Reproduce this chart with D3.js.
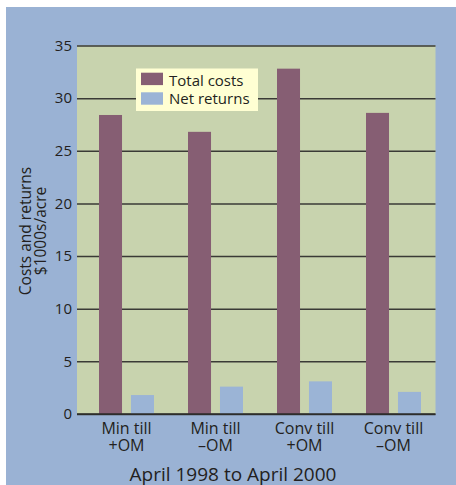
<!DOCTYPE html>
<html>
<head>
<meta charset="utf-8">
<script src="https://cdn.jsdelivr.net/npm/d3@7/dist/d3.min.js"></script>
<style>
  html, body { margin: 0; padding: 0; background: #ffffff; }
  svg { display: block; }
  text { font-family: "Open Sans", "Noto Sans", sans-serif; fill: #231f20; }
</style>
</head>
<body>
<div id="chart"></div>
<script>
// ---- data ----
const categories = ["Min till|+OM", "Min till|\u2013OM", "Conv till|+OM", "Conv till|\u2013OM"];
const seriesNames = ["Total costs", "Net returns"];
const totalCosts = [28.4, 26.8, 32.8, 28.6];
const netReturns = [1.8, 2.6, 3.1, 2.1];
const yTicks = [0, 5, 10, 15, 20, 25, 30, 35];
const yTitleLines = ["Costs and returns", "$1000s/acre"];
const xTitle = "April 1998 to April 2000";

const seriesValues = { "Total costs": totalCosts, "Net returns": netReturns };
const colors = { "Total costs": "#865e73", "Net returns": "#9bb4d6" };

// ---- layout ----
const W = 456, H = 485;
const plot = { left: 77, right: 435.5, top: 45.5, bottom: 414 };

const svg = d3.select("#chart").append("svg").attr("width", W).attr("height", H);

// outer blue panel
svg.append("rect").attr("x", 6).attr("y", 7).attr("width", W - 6).attr("height", H - 7).attr("fill", "#9ab2d4");

// plot background
svg.append("rect")
  .attr("x", plot.left).attr("y", plot.top)
  .attr("width", plot.right - plot.left).attr("height", plot.bottom - plot.top)
  .attr("fill", "#c8d3ae");

const y = d3.scaleLinear().domain([0, 35]).range([plot.bottom, plot.top]);
const x0 = d3.scaleBand().domain(categories).range([82, 438]).padding(0);
const x1 = d3.scaleBand().domain(seriesNames).range([17, 72]).paddingInner(0.28).paddingOuter(0);

// y axis with gridlines
const yAxis = svg.append("g")
  .attr("transform", `translate(${plot.left},0)`)
  .call(d3.axisLeft(y).tickValues(yTicks).tickSize(-(plot.right - plot.left)).tickPadding(5).tickFormat(d3.format("d")));
yAxis.select(".domain").remove();
yAxis.selectAll(".tick line").attr("stroke", "#3a3a36").attr("stroke-width", 1.5);
yAxis.selectAll(".tick text").attr("font-size", 15).attr("fill", "#231f20")
  .attr("font-family", "'Open Sans', sans-serif");

// bars
const groups = svg.append("g").selectAll("g")
  .data(categories.map((c, i) => ({ c, i })))
  .join("g")
  .attr("transform", d => `translate(${x0(d.c)},0)`);

groups.selectAll("rect")
  .data(d => seriesNames.map(s => ({ s, v: seriesValues[s][d.i] })))
  .join("rect")
  .attr("x", d => x1(d.s))
  .attr("width", x1.bandwidth())
  .attr("y", d => y(d.v))
  .attr("height", d => y(0) - y(d.v))
  .attr("fill", d => colors[d.s]);

// baseline
svg.append("line")
  .attr("x1", plot.left).attr("x2", plot.right)
  .attr("y1", y(0)).attr("y2", y(0))
  .attr("stroke", "#2a2a28").attr("stroke-width", 1.5);

// x category labels (two separate lines)
const groupCenter = (x1.range()[0] + x1.range()[1]) / 2;
const labelLines = [];
categories.forEach(c => c.split("|").forEach((t, i) => labelLines.push({ c, t, i })));
svg.append("g").selectAll("text")
  .data(labelLines)
  .join("text")
  .attr("x", d => x0(d.c) + groupCenter)
  .attr("y", d => 433.5 + d.i * 17.5)
  .attr("text-anchor", "middle")
  .attr("font-size", 16)
  .text(d => d.t);

// x title
svg.append("text")
  .attr("x", 233).attr("y", 480.5)
  .attr("text-anchor", "middle")
  .attr("font-size", 19)
  .text(xTitle);

// y title
yTitleLines.forEach((t, i) => {
  svg.append("text")
    .attr("transform", `translate(${31 + i * 14.5},231) rotate(-90)`)
    .attr("text-anchor", "middle")
    .attr("font-size", 15.5)
    .text(t);
});

// legend
const lg = svg.append("g");
lg.append("rect").attr("x", 136).attr("y", 68.5).attr("width", 122).attr("height", 42.5).attr("fill", "#ffffd3");
seriesNames.forEach((s, i) => {
  lg.append("rect").attr("x", 141).attr("y", 72.7 + i * 19.6).attr("width", 22).attr("height", 12.4).attr("fill", colors[s]);
  lg.append("text").attr("x", 169).attr("y", 85.5 + i * 18.6).attr("font-size", 15).text(s);
});
</script>
</body>
</html>
